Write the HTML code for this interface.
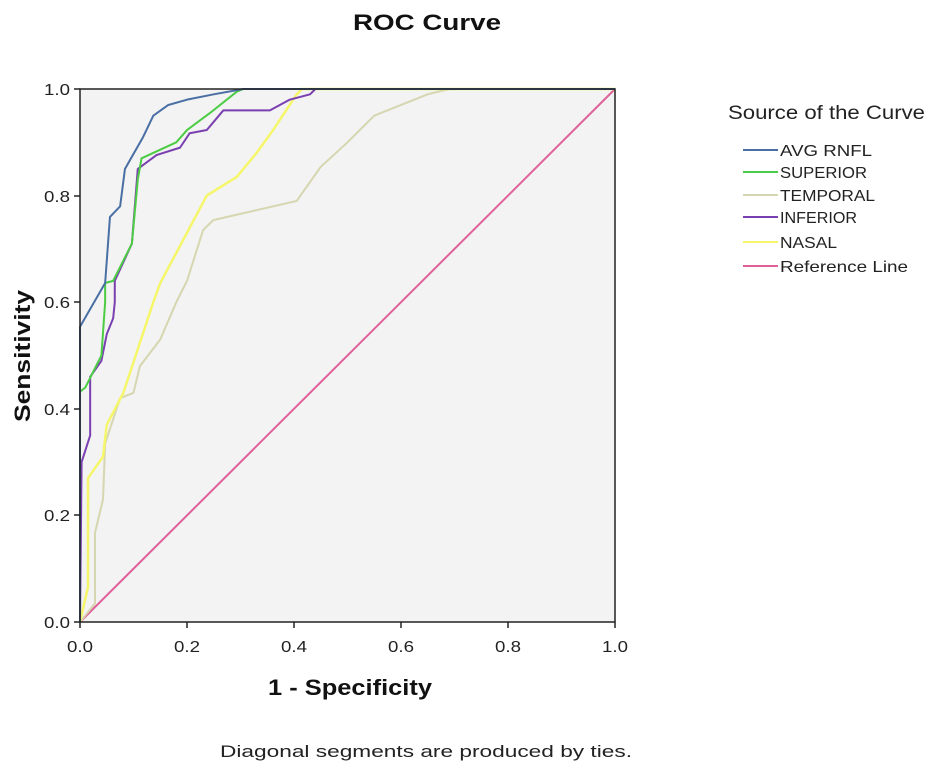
<!DOCTYPE html>
<html><head><meta charset="utf-8"><style>
body{margin:0;background:#fff;}
svg text{font-family:"Liberation Sans",Arial,sans-serif;}
</style></head><body>
<svg width="935" height="770" viewBox="0 0 935 770" xmlns="http://www.w3.org/2000/svg">
<rect width="935" height="770" fill="#fff"/>
<text x="427" y="30" font-size="22" font-weight="bold" text-anchor="middle" fill="#111" textLength="148" lengthAdjust="spacingAndGlyphs">ROC Curve</text>
<rect x="80" y="89" width="535" height="533" fill="#f2f3f2"/>
<g transform="translate(80,622) scale(535,-533)" fill="none" stroke-linejoin="round">
<polyline vector-effect="non-scaling-stroke" stroke="#e0609a" stroke-width="2" points="0,0 1,1"/>
<polyline vector-effect="non-scaling-stroke" stroke="#d6d6b0" stroke-width="2" points="0,0 0.028,0.035 0.028,0.167 0.043,0.23 0.047,0.335 0.075,0.42 0.1,0.43 0.112,0.48 0.15,0.53 0.18,0.6 0.2,0.64 0.23,0.735 0.249,0.754 0.405,0.79 0.45,0.854 0.5,0.9 0.55,0.95 0.6,0.97 0.65,0.99 0.69,1 1,1"/>
<polyline vector-effect="non-scaling-stroke" stroke="#f6f66a" stroke-width="2.5" points="0,0 0.015,0.066 0.015,0.27 0.043,0.31 0.05,0.37 0.081,0.43 0.137,0.6 0.15,0.636 0.193,0.717 0.237,0.8 0.293,0.835 0.33,0.88 0.361,0.923 0.405,0.99 0.415,1 1,1"/>
<polyline vector-effect="non-scaling-stroke" stroke="#7a3fb0" stroke-width="2" points="0,0 0.003,0.3 0.019,0.35 0.019,0.46 0.04,0.49 0.05,0.54 0.062,0.57 0.065,0.6 0.065,0.64 0.097,0.71 0.108,0.85 0.143,0.876 0.187,0.89 0.205,0.917 0.237,0.923 0.268,0.96 0.355,0.96 0.392,0.98 0.43,0.99 0.44,1"/>
<polyline vector-effect="non-scaling-stroke" stroke="#4ccc44" stroke-width="2" points="0,0 0,0.432 0.01,0.44 0.04,0.5 0.047,0.6 0.047,0.636 0.062,0.64 0.097,0.71 0.108,0.83 0.115,0.87 0.18,0.9 0.2,0.923 0.243,0.955 0.293,0.995 0.305,1 1,1"/>
<polyline vector-effect="non-scaling-stroke" stroke="#4a6fa5" stroke-width="2" points="0,0 0,0.554 0.047,0.636 0.056,0.76 0.075,0.78 0.084,0.85 0.118,0.91 0.137,0.95 0.165,0.97 0.2,0.98 0.25,0.99 0.305,1 1,1"/>
</g>
<rect x="80" y="89" width="535" height="533" fill="none" stroke="#222" stroke-width="1.5"/>
<g stroke="#222" stroke-width="1.5">
<line x1="80" y1="622" x2="80" y2="628"/><line x1="187" y1="622" x2="187" y2="628"/><line x1="294" y1="622" x2="294" y2="628"/><line x1="401" y1="622" x2="401" y2="628"/><line x1="508" y1="622" x2="508" y2="628"/><line x1="615" y1="622" x2="615" y2="628"/>
<line x1="74" y1="89" x2="80" y2="89"/><line x1="74" y1="196" x2="80" y2="196"/><line x1="74" y1="302" x2="80" y2="302"/><line x1="74" y1="409" x2="80" y2="409"/><line x1="74" y1="515" x2="80" y2="515"/><line x1="74" y1="622" x2="80" y2="622"/>
</g>
<g font-size="16" fill="#222" text-anchor="middle">
<text x="80" y="652" textLength="26" lengthAdjust="spacingAndGlyphs">0.0</text><text x="187" y="652" textLength="26" lengthAdjust="spacingAndGlyphs">0.2</text><text x="294" y="652" textLength="26" lengthAdjust="spacingAndGlyphs">0.4</text><text x="401" y="652" textLength="26" lengthAdjust="spacingAndGlyphs">0.6</text><text x="508" y="652" textLength="26" lengthAdjust="spacingAndGlyphs">0.8</text><text x="615" y="652" textLength="26" lengthAdjust="spacingAndGlyphs">1.0</text>
</g>
<g font-size="16" fill="#222" text-anchor="end">
<text x="70" y="95" textLength="26" lengthAdjust="spacingAndGlyphs">1.0</text><text x="70" y="202" textLength="26" lengthAdjust="spacingAndGlyphs">0.8</text><text x="70" y="308" textLength="26" lengthAdjust="spacingAndGlyphs">0.6</text><text x="70" y="415" textLength="26" lengthAdjust="spacingAndGlyphs">0.4</text><text x="70" y="521" textLength="26" lengthAdjust="spacingAndGlyphs">0.2</text><text x="70" y="628" textLength="26" lengthAdjust="spacingAndGlyphs">0.0</text>
</g>
<text x="350" y="695" font-size="22" font-weight="bold" text-anchor="middle" fill="#111" textLength="164" lengthAdjust="spacingAndGlyphs">1 - Specificity</text>
<text transform="translate(30,356) rotate(-90)" font-size="22" font-weight="bold" text-anchor="middle" fill="#111" textLength="132" lengthAdjust="spacingAndGlyphs">Sensitivity</text>
<text x="426" y="757" font-size="17" text-anchor="middle" fill="#222" textLength="412" lengthAdjust="spacingAndGlyphs">Diagonal segments are produced by ties.</text>
<text x="728" y="119" font-size="19" fill="#222" textLength="197" lengthAdjust="spacingAndGlyphs">Source of the Curve</text>
<g stroke-width="2">
<line x1="743" y1="150" x2="778" y2="150" stroke="#4a6fa5"/>
<line x1="743" y1="172" x2="778" y2="172" stroke="#4ccc44"/>
<line x1="743" y1="195" x2="778" y2="195" stroke="#d6d6b0"/>
<line x1="743" y1="217" x2="778" y2="217" stroke="#7a3fb0"/>
<line x1="743" y1="242" x2="778" y2="242" stroke="#f6f66a"/>
<line x1="743" y1="266" x2="778" y2="266" stroke="#e0609a"/>
</g>
<g font-size="16" fill="#222">
<text x="780" y="156" textLength="92" lengthAdjust="spacingAndGlyphs">AVG RNFL</text>
<text x="780" y="178" textLength="87" lengthAdjust="spacingAndGlyphs">SUPERIOR</text>
<text x="780" y="201" textLength="95" lengthAdjust="spacingAndGlyphs">TEMPORAL</text>
<text x="780" y="223" textLength="77" lengthAdjust="spacingAndGlyphs">INFERIOR</text>
<text x="780" y="248" textLength="57" lengthAdjust="spacingAndGlyphs">NASAL</text>
<text x="780" y="272" textLength="128" lengthAdjust="spacingAndGlyphs">Reference Line</text>
</g>
</svg>
</body></html>
